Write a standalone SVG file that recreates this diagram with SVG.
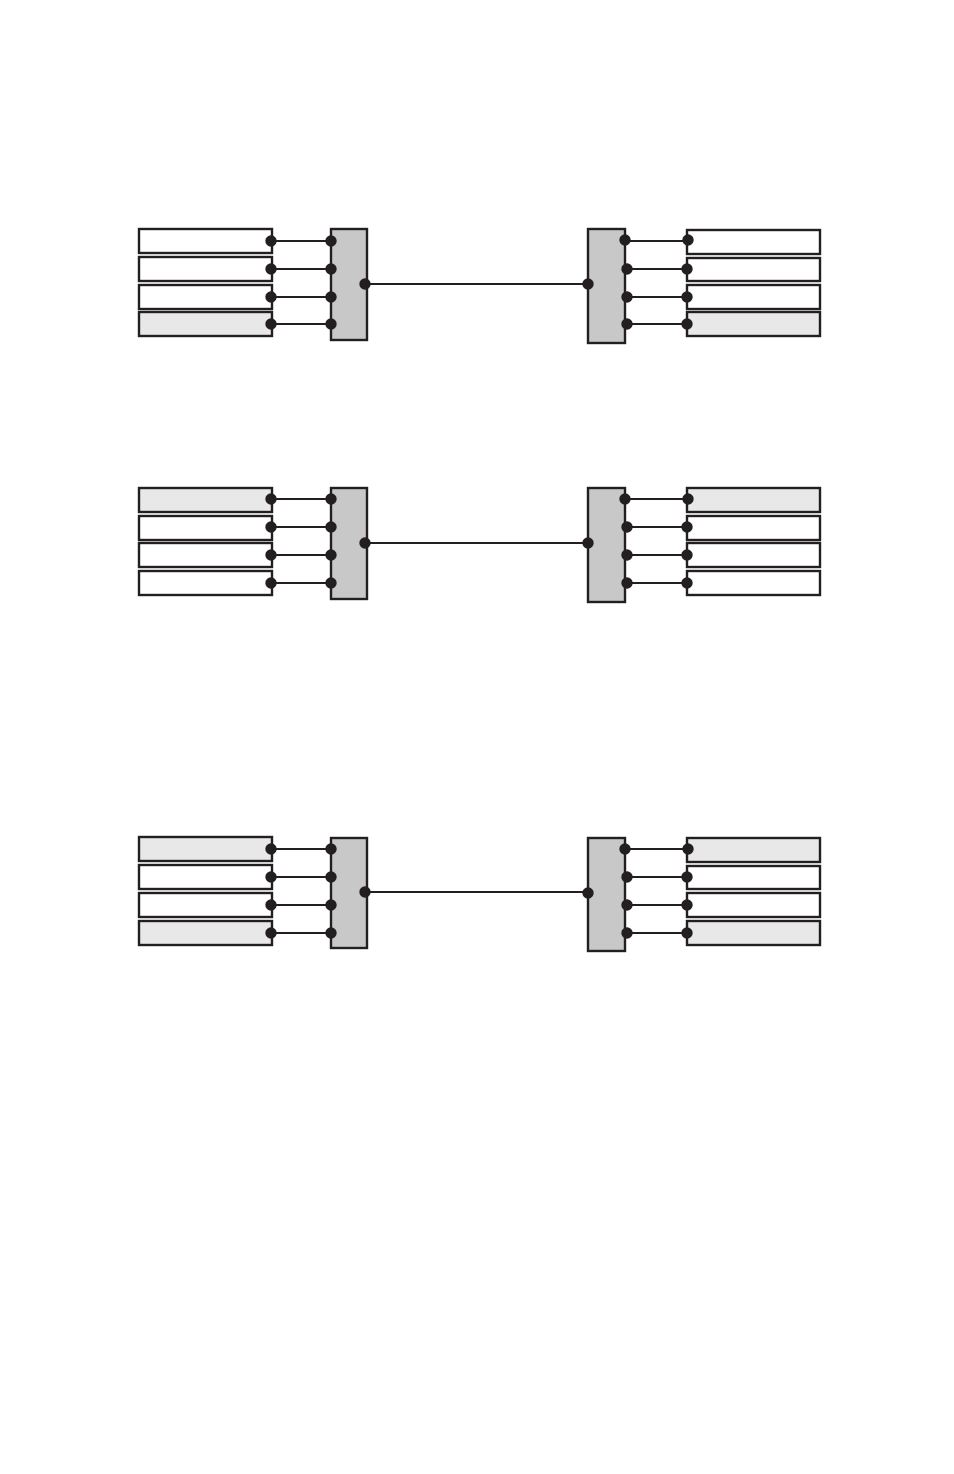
<svg xmlns="http://www.w3.org/2000/svg" width="954" height="1474" viewBox="0 0 954 1474">
<defs>
<style>
.box{fill:#fff;stroke:#231f20;stroke-width:2.4}
.box.g{fill:#e8e8e8}
.hub{fill:#c8c8c8;stroke:#231f20;stroke-width:2.4}
.ln{stroke:#231f20;stroke-width:1.9;fill:none}
.dot{fill:#231f20}
</style>
</defs>
<rect width="954" height="1474" fill="#fff"/>

<!-- Group 1 -->
<g id="connectors-1">
<line class="ln" x1="271" y1="241" x2="331" y2="241"/>
<line class="ln" x1="271" y1="269" x2="331" y2="269"/>
<line class="ln" x1="271" y1="297" x2="331" y2="297"/>
<line class="ln" x1="271" y1="324" x2="331" y2="324"/>
<line class="ln" x1="365" y1="284" x2="588" y2="284"/>
<line class="ln" x1="625" y1="241" x2="688" y2="241"/>
<line class="ln" x1="627" y1="269" x2="688" y2="269"/>
<line class="ln" x1="627" y1="297" x2="688" y2="297"/>
<line class="ln" x1="627" y1="324" x2="688" y2="324"/>
</g>
<g id="left-boxes-1">
<rect class="box" x="139" y="229" width="133" height="24"/>
<rect class="box" x="139" y="257" width="133" height="24"/>
<rect class="box" x="139" y="285" width="133" height="24"/>
<rect class="box g" x="139" y="312" width="133" height="24"/>
</g>
<g id="left-hub-1"><rect class="hub" x="331" y="229" width="36" height="111"/></g>
<g id="right-hub-1"><rect class="hub" x="588" y="229" width="37" height="114"/></g>
<g id="right-boxes-1">
<rect class="box" x="687" y="230" width="133" height="24"/>
<rect class="box" x="687" y="258" width="133" height="23"/>
<rect class="box" x="687" y="285" width="133" height="24"/>
<rect class="box g" x="687" y="312" width="133" height="24"/>
</g>
<g id="dots-1" class="dot">
<circle cx="271" cy="241" r="5.7"/><circle cx="271" cy="269" r="5.7"/><circle cx="271" cy="297" r="5.7"/><circle cx="271" cy="324" r="5.7"/>
<circle cx="331" cy="241" r="5.7"/><circle cx="331" cy="269" r="5.7"/><circle cx="331" cy="297" r="5.7"/><circle cx="331" cy="324" r="5.7"/>
<circle cx="365" cy="284" r="5.7"/><circle cx="588" cy="284" r="5.7"/>
<circle cx="625" cy="240" r="5.7"/><circle cx="627" cy="269" r="5.7"/><circle cx="627" cy="297" r="5.7"/><circle cx="627" cy="324" r="5.7"/>
<circle cx="688" cy="240" r="5.7"/><circle cx="687" cy="269" r="5.7"/><circle cx="687" cy="297" r="5.7"/><circle cx="687" cy="324" r="5.7"/>
</g>

<!-- Group 2 -->
<g id="connectors-2">
<line class="ln" x1="271" y1="499" x2="331" y2="499"/>
<line class="ln" x1="271" y1="527" x2="331" y2="527"/>
<line class="ln" x1="271" y1="555" x2="331" y2="555"/>
<line class="ln" x1="271" y1="583" x2="331" y2="583"/>
<line class="ln" x1="365" y1="543" x2="588" y2="543"/>
<line class="ln" x1="625" y1="499" x2="688" y2="499"/>
<line class="ln" x1="627" y1="527" x2="688" y2="527"/>
<line class="ln" x1="627" y1="555" x2="688" y2="555"/>
<line class="ln" x1="627" y1="583" x2="688" y2="583"/>
</g>
<g id="left-boxes-2">
<rect class="box g" x="139" y="488" width="133" height="24"/>
<rect class="box" x="139" y="516" width="133" height="24"/>
<rect class="box" x="139" y="543" width="133" height="24"/>
<rect class="box" x="139" y="571" width="133" height="24"/>
</g>
<g id="left-hub-2"><rect class="hub" x="331" y="488" width="36" height="111"/></g>
<g id="right-hub-2"><rect class="hub" x="588" y="488" width="37" height="114"/></g>
<g id="right-boxes-2">
<rect class="box g" x="687" y="488" width="133" height="24"/>
<rect class="box" x="687" y="516" width="133" height="24"/>
<rect class="box" x="687" y="543" width="133" height="24"/>
<rect class="box" x="687" y="571" width="133" height="24"/>
</g>
<g id="dots-2" class="dot">
<circle cx="271" cy="499" r="5.7"/><circle cx="271" cy="527" r="5.7"/><circle cx="271" cy="555" r="5.7"/><circle cx="271" cy="583" r="5.7"/>
<circle cx="331" cy="499" r="5.7"/><circle cx="331" cy="527" r="5.7"/><circle cx="331" cy="555" r="5.7"/><circle cx="331" cy="583" r="5.7"/>
<circle cx="365" cy="543" r="5.7"/><circle cx="588" cy="543" r="5.7"/>
<circle cx="625" cy="499" r="5.7"/><circle cx="627" cy="527" r="5.7"/><circle cx="627" cy="555" r="5.7"/><circle cx="627" cy="583" r="5.7"/>
<circle cx="688" cy="499" r="5.7"/><circle cx="687" cy="527" r="5.7"/><circle cx="687" cy="555" r="5.7"/><circle cx="687" cy="583" r="5.7"/>
</g>

<!-- Group 3 -->
<g id="connectors-3">
<line class="ln" x1="271" y1="849" x2="331" y2="849"/>
<line class="ln" x1="271" y1="877" x2="331" y2="877"/>
<line class="ln" x1="271" y1="905" x2="331" y2="905"/>
<line class="ln" x1="271" y1="933" x2="331" y2="933"/>
<line class="ln" x1="365" y1="892" x2="588" y2="892"/>
<line class="ln" x1="625" y1="849" x2="688" y2="849"/>
<line class="ln" x1="627" y1="877" x2="688" y2="877"/>
<line class="ln" x1="627" y1="905" x2="688" y2="905"/>
<line class="ln" x1="627" y1="933" x2="688" y2="933"/>
</g>
<g id="left-boxes-3">
<rect class="box g" x="139" y="837" width="133" height="24"/>
<rect class="box" x="139" y="865" width="133" height="24"/>
<rect class="box" x="139" y="893" width="133" height="24"/>
<rect class="box g" x="139" y="921" width="133" height="24"/>
</g>
<g id="left-hub-3"><rect class="hub" x="331" y="838" width="36" height="110"/></g>
<g id="right-hub-3"><rect class="hub" x="588" y="838" width="37" height="113"/></g>
<g id="right-boxes-3">
<rect class="box g" x="687" y="838" width="133" height="24"/>
<rect class="box" x="687" y="866" width="133" height="23"/>
<rect class="box" x="687" y="893" width="133" height="24"/>
<rect class="box g" x="687" y="921" width="133" height="24"/>
</g>
<g id="dots-3" class="dot">
<circle cx="271" cy="849" r="5.7"/><circle cx="271" cy="877" r="5.7"/><circle cx="271" cy="905" r="5.7"/><circle cx="271" cy="933" r="5.7"/>
<circle cx="331" cy="849" r="5.7"/><circle cx="331" cy="877" r="5.7"/><circle cx="331" cy="905" r="5.7"/><circle cx="331" cy="933" r="5.7"/>
<circle cx="365" cy="892" r="5.7"/><circle cx="588" cy="893" r="5.7"/>
<circle cx="625" cy="849" r="5.7"/><circle cx="627" cy="877" r="5.7"/><circle cx="627" cy="905" r="5.7"/><circle cx="627" cy="933" r="5.7"/>
<circle cx="688" cy="849" r="5.7"/><circle cx="687" cy="877" r="5.7"/><circle cx="687" cy="905" r="5.7"/><circle cx="687" cy="933" r="5.7"/>
</g>
</svg>
